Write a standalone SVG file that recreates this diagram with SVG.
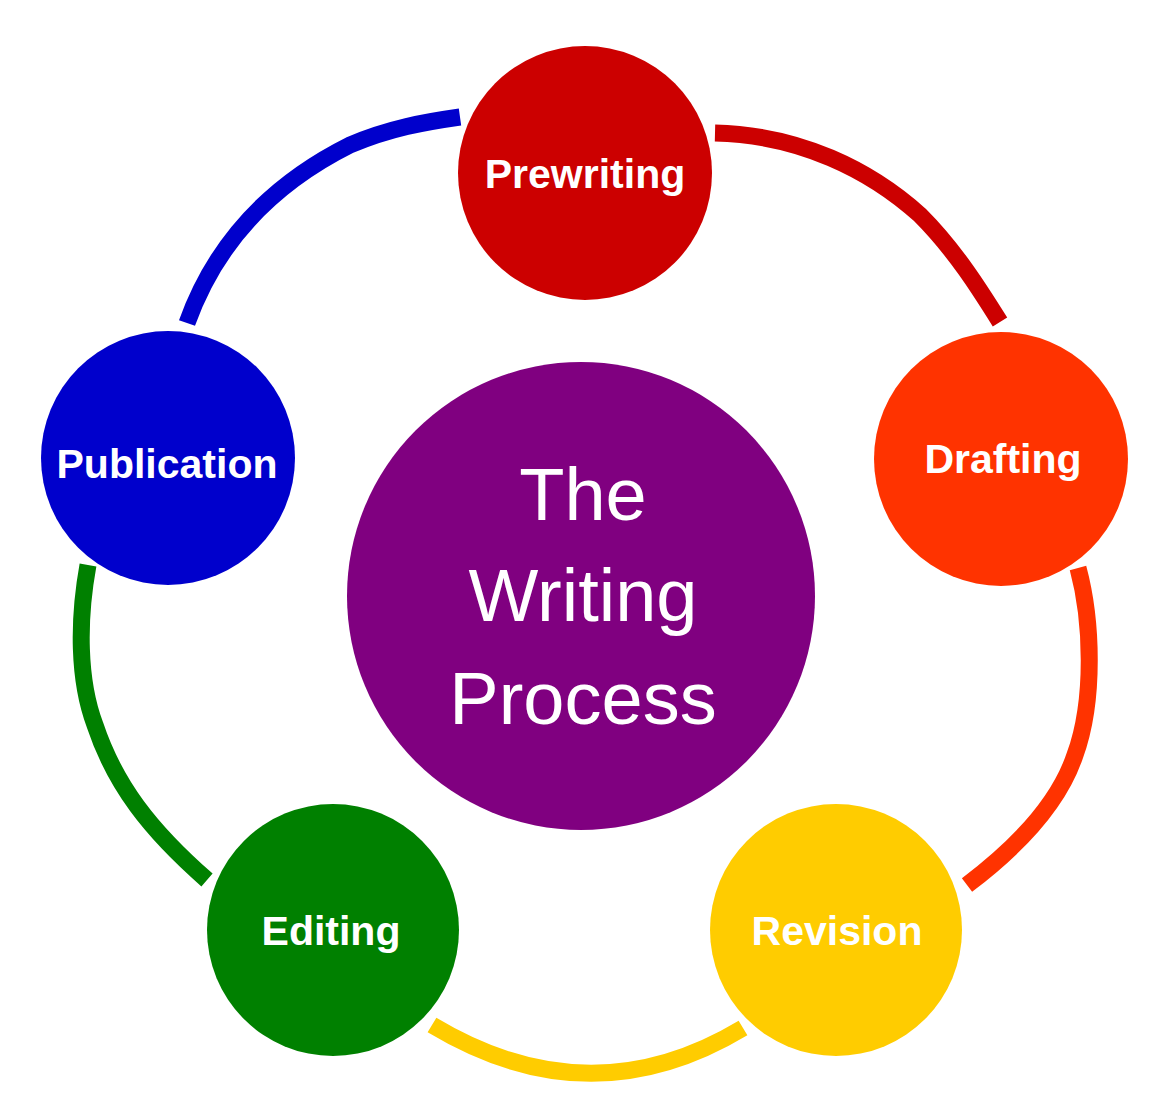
<svg xmlns="http://www.w3.org/2000/svg" width="1172" height="1119" viewBox="0 0 1172 1119">
<style>
.arc{fill:none;stroke-width:17;stroke-linecap:butt}
.lbl{font-family:"Liberation Sans",Arial,sans-serif;font-weight:bold;font-size:41px;fill:#fff;text-anchor:middle}
.ctr{font-family:"Liberation Sans",Arial,sans-serif;font-size:74px;fill:#fff;text-anchor:middle}
</style>
<rect width="1172" height="1119" fill="#fff"/>
<g id="connectors">
<path class="arc" stroke="#0000CC" d="M187,323 C215,245 270,185 350,145 C390,128 425,122 460,117"/>
<path class="arc" stroke="#CC0000" d="M715,133 C800,135 870,170 920,215 C955,250 980,290 1000,322"/>
<path class="arc" stroke="#FF3300" d="M1078,568 C1092,620 1095,700 1075,755 C1060,800 1020,845 967,885"/>
<path class="arc" stroke="#FFCC00" d="M432,1025 Q590,1120 743,1028"/>
<path class="arc" stroke="#008000" d="M88,565 C78,620 78,680 95,725 C115,785 150,830 207,880"/>
</g>
<g id="center">
<circle cx="581" cy="596" r="234" fill="#800080"/>
<text class="ctr" x="583" y="520">The</text>
<text class="ctr" x="583" y="621">Writing</text>
<text class="ctr" x="583" y="724">Process</text>
</g>
<g id="prewriting">
<circle cx="585" cy="173" r="127" fill="#CC0000"/>
<text class="lbl" x="585" y="188">Prewriting</text>
</g>
<g id="drafting">
<circle cx="1001" cy="459" r="127" fill="#FF3300"/>
<text class="lbl" x="1003" y="473">Drafting</text>
</g>
<g id="revision">
<circle cx="836" cy="930" r="126" fill="#FFCC00"/>
<text class="lbl" x="837" y="945">Revision</text>
</g>
<g id="editing">
<circle cx="333" cy="930" r="126" fill="#008000"/>
<text class="lbl" x="331" y="945">Editing</text>
</g>
<g id="publication">
<circle cx="168" cy="458" r="127" fill="#0000CC"/>
<text class="lbl" x="167" y="478">Publication</text>
</g>
</svg>
